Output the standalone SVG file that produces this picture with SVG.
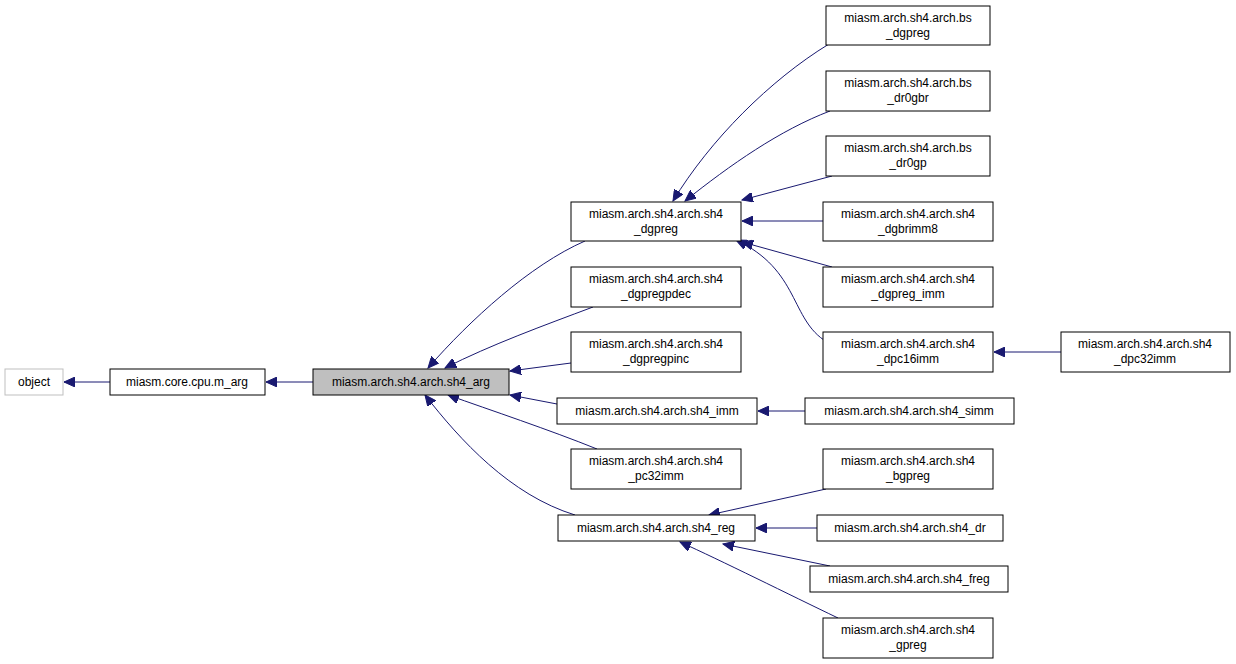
<svg xmlns="http://www.w3.org/2000/svg" width="1236" height="664" viewBox="0 0 1236 664">
<style>
.n rect{fill:#fff;stroke:#000;stroke-width:1}
.g rect{fill:#fff;stroke:#bfbfbf}
.h rect{fill:#bfbfbf;stroke:#000}
text{font-family:"Liberation Sans",Arial,sans-serif;font-size:12px;fill:#000}
.e path{fill:none;stroke:#191970;stroke-width:1;marker-end:url(#a)}
</style>
<defs><marker id="a" markerWidth="12" markerHeight="10" refX="11" refY="5" orient="auto" markerUnits="userSpaceOnUse"><path d="M0,0 L11,5 L0,10 Z" fill="#191970" stroke="#191970"/></marker></defs>
<rect width="1236" height="664" fill="#fff"/>
<g class="e">
<path d="M110,382 L64,382"/>
<path d="M313,382 L266,382"/>
<path d="M585,241 C530,265 470,320 428,368"/>
<path d="M593,307 C545,325 490,345 445,368"/>
<path d="M571,363 L510,371"/>
<path d="M557,404 L510,395"/>
<path d="M597,449 C550,430 490,410 448,395"/>
<path d="M575,515 C510,495 460,440 425,395"/>
<path d="M829,44 C770,80 710,140 673,201"/>
<path d="M830,111 C780,130 730,165 685,201"/>
<path d="M832,176 L742,200"/>
<path d="M823,221 L742,221"/>
<path d="M832,267 L742,242"/>
<path d="M827,342 C790,320 800,270 736,240"/>
<path d="M1061,352 L994,352"/>
<path d="M805,411 L758,411"/>
<path d="M826,489 L709,515"/>
<path d="M817,528 L756,528"/>
<path d="M830,566 L723,544"/>
<path d="M838,618 C790,595 720,560 680,542"/>
</g>
<g id="object" class="g"><rect x="5" y="369" width="58" height="26"/><text x="34" y="386" text-anchor="middle">object</text></g>
<g id="m_arg" class="n"><rect x="110" y="369" width="155" height="26"/><text x="187" y="386" text-anchor="middle">miasm.core.cpu.m_arg</text></g>
<g id="sh4_arg" class="h"><rect x="313" y="369" width="196" height="26"/><text x="411" y="386" text-anchor="middle">miasm.arch.sh4.arch.sh4_arg</text></g>
<g id="dgpreg" class="n"><rect x="571" y="202" width="170" height="39"/><text x="656" y="218" text-anchor="middle">miasm.arch.sh4.arch.sh4</text><text x="656" y="233" text-anchor="middle">_dgpreg</text></g>
<g id="dgpregpdec" class="n"><rect x="571" y="267" width="170" height="40"/><text x="656" y="283" text-anchor="middle">miasm.arch.sh4.arch.sh4</text><text x="656" y="298" text-anchor="middle">_dgpregpdec</text></g>
<g id="dgpregpinc" class="n"><rect x="571" y="332" width="170" height="40"/><text x="656" y="348" text-anchor="middle">miasm.arch.sh4.arch.sh4</text><text x="656" y="363" text-anchor="middle">_dgpregpinc</text></g>
<g id="imm" class="n"><rect x="557" y="398" width="200" height="26"/><text x="657" y="415" text-anchor="middle">miasm.arch.sh4.arch.sh4_imm</text></g>
<g id="pc32imm" class="n"><rect x="571" y="449" width="170" height="40"/><text x="656" y="465" text-anchor="middle">miasm.arch.sh4.arch.sh4</text><text x="656" y="480" text-anchor="middle">_pc32imm</text></g>
<g id="reg" class="n"><rect x="558" y="515" width="197" height="26"/><text x="656" y="532" text-anchor="middle">miasm.arch.sh4.arch.sh4_reg</text></g>
<g id="bs_dgpreg" class="n"><rect x="826" y="6" width="164" height="39"/><text x="908" y="22" text-anchor="middle">miasm.arch.sh4.arch.bs</text><text x="908" y="37" text-anchor="middle">_dgpreg</text></g>
<g id="bs_dr0gbr" class="n"><rect x="826" y="71" width="164" height="40"/><text x="908" y="87" text-anchor="middle">miasm.arch.sh4.arch.bs</text><text x="908" y="102" text-anchor="middle">_dr0gbr</text></g>
<g id="bs_dr0gp" class="n"><rect x="826" y="136" width="164" height="40"/><text x="908" y="152" text-anchor="middle">miasm.arch.sh4.arch.bs</text><text x="908" y="167" text-anchor="middle">_dr0gp</text></g>
<g id="dgbrimm8" class="n"><rect x="823" y="202" width="170" height="39"/><text x="908" y="218" text-anchor="middle">miasm.arch.sh4.arch.sh4</text><text x="908" y="233" text-anchor="middle">_dgbrimm8</text></g>
<g id="dgpreg_imm" class="n"><rect x="823" y="267" width="170" height="40"/><text x="908" y="283" text-anchor="middle">miasm.arch.sh4.arch.sh4</text><text x="908" y="298" text-anchor="middle">_dgpreg_imm</text></g>
<g id="dpc16imm" class="n"><rect x="823" y="332" width="170" height="40"/><text x="908" y="348" text-anchor="middle">miasm.arch.sh4.arch.sh4</text><text x="908" y="363" text-anchor="middle">_dpc16imm</text></g>
<g id="dpc32imm" class="n"><rect x="1061" y="332" width="169" height="40"/><text x="1145" y="348" text-anchor="middle">miasm.arch.sh4.arch.sh4</text><text x="1145" y="363" text-anchor="middle">_dpc32imm</text></g>
<g id="simm" class="n"><rect x="805" y="398" width="209" height="26"/><text x="909" y="415" text-anchor="middle">miasm.arch.sh4.arch.sh4_simm</text></g>
<g id="bgpreg" class="n"><rect x="823" y="449" width="170" height="40"/><text x="908" y="465" text-anchor="middle">miasm.arch.sh4.arch.sh4</text><text x="908" y="480" text-anchor="middle">_bgpreg</text></g>
<g id="dr" class="n"><rect x="817" y="515" width="186" height="26"/><text x="910" y="532" text-anchor="middle">miasm.arch.sh4.arch.sh4_dr</text></g>
<g id="freg" class="n"><rect x="810" y="566" width="198" height="26"/><text x="909" y="583" text-anchor="middle">miasm.arch.sh4.arch.sh4_freg</text></g>
<g id="gpreg" class="n"><rect x="823" y="618" width="170" height="40"/><text x="908" y="634" text-anchor="middle">miasm.arch.sh4.arch.sh4</text><text x="908" y="649" text-anchor="middle">_gpreg</text></g>
</svg>
